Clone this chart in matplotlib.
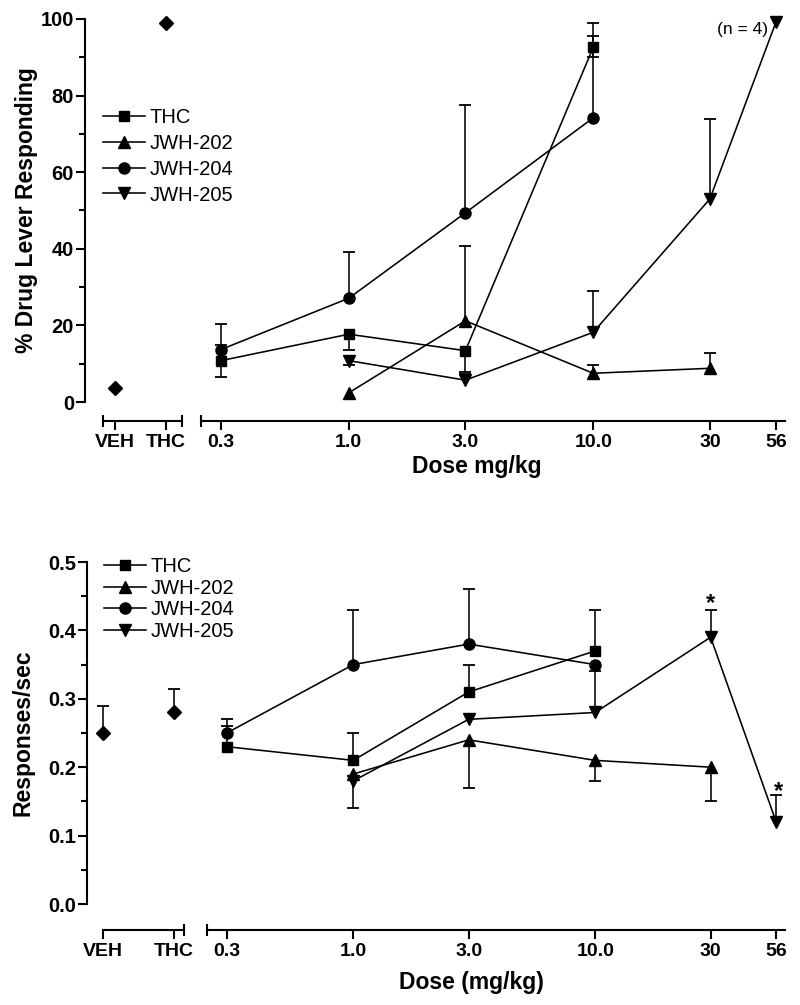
import matplotlib
matplotlib.use('Agg')
import matplotlib.pyplot as plt
from matplotlib.ticker import FixedLocator, NullFormatter

plt.rcParams['font.family'] = ['Liberation Sans', 'DejaVu Sans']

# ---------------- data ----------------
ctrl_labels = ['VEH', 'THC']
dose_ticks = [0.3, 1.0, 3.0, 10.0, 30, 56]
dose_tick_labels = ['0.3', '1.0', '3.0', '10.0', '30', '56']
series_names = ['THC', 'JWH-202', 'JWH-204', 'JWH-205']

thc_dose = [0.3, 1.0, 3.0, 10.0]
j202_dose = [1.0, 3.0, 10.0, 30]
j204_dose = [0.3, 1.0, 3.0, 10.0]
j205_dose = [1.0, 3.0, 10.0, 30, 56]

# top panel: % drug lever responding
top_ctrl = [3.6, 99.0]
top_ctrl_hi = [0, 0]
top_thc = [10.8, 17.7, 13.4, 92.6]
top_thc_lo = [4.2, 4.0, 5.5, 2.6]
top_thc_hi = [4.0, 0, 0, 3.0]
top_j202 = [2.4, 21.2, 7.5, 8.8]
top_j202_lo = [0, 0, 0, 0]
top_j202_hi = [0, 19.5, 2.2, 3.9]
top_j204 = [13.7, 27.1, 49.4, 74.2]
top_j204_lo = [0, 0, 0, 0]
top_j204_hi = [6.7, 12.0, 28.1, 24.8]
top_j205 = [10.8, 5.7, 18.2, 53.0, 99.3]
top_j205_lo = [1.2, 0, 0, 0, 0]
top_j205_hi = [0, 1.6, 10.9, 20.8, 0]

# bottom panel: responses/sec
bot_ctrl = [0.25, 0.28]
bot_ctrl_hi = [0.04, 0.035]
bot_thc = [0.23, 0.21, 0.31, 0.37]
bot_thc_lo = [0, 0, 0, 0]
bot_thc_hi = [0.03, 0.04, 0.04, 0.06]
bot_j202 = [0.19, 0.24, 0.21, 0.20]
bot_j202_lo = [0.05, 0.07, 0.03, 0.05]
bot_j202_hi = [0, 0, 0, 0]
bot_j204 = [0.25, 0.35, 0.38, 0.35]
bot_j204_lo = [0, 0, 0, 0]
bot_j204_hi = [0.02, 0.08, 0.08, 0]
bot_j205 = [0.18, 0.27, 0.28, 0.39, 0.12]
bot_j205_lo = [0, 0, 0, 0, 0]
bot_j205_hi = [0, 0, 0.06, 0.04, 0.04]

# ---------------- style ----------------
W, H, DPI = 800, 1005, 100
LW = 1.15
SPW = 1.5
XTICK_FS = 14
YTICK_FS = 14.5
LAB_FS = 16.5
LEG_FS = 14.5
markers = {'THC': ('s', 7.5), 'JWH-202': ('^', 8.5), 'JWH-204': ('o', 8), 'JWH-205': ('v', 8.5)}
XMIN, XMAX = 0.2485, 60.9

fig = plt.figure(figsize=(W / DPI, H / DPI), dpi=DPI)


def px_axes(x0, x1, ytop, ybot):
    return fig.add_axes([x0 / W, 1 - ybot / H, (x1 - x0) / W, (ybot - ytop) / H])


def draw_err(ax, xs, ys, lo, hi):
    for xi, yi, l, h in zip(xs, ys, lo, hi):
        for e in ([h] if h > 0 else []) + ([-l] if l > 0 else []):
            ax.vlines(xi, yi, yi + e, color='k', lw=LW, zorder=2, clip_on=False)
            ax.plot([xi], [yi + e], marker='_', ms=8.5, mew=1.3, color='k', zorder=2, clip_on=False)


def style_axes(axL, axR, ylim, yticks, yminor, ytl, offset_pt, lbounds, ylabel, ylab_x):
    for ax in (axL, axR):
        ax.set_ylim(*ylim)
        ax.spines['top'].set_visible(False)
        ax.spines['right'].set_visible(False)
        ax.spines['bottom'].set_position(('outward', offset_pt))
        ax.spines['bottom'].set_linewidth(SPW)
        ax.spines['left'].set_linewidth(SPW)
        ax.patch.set_alpha(0)
    axR.spines['left'].set_visible(False)
    axR.tick_params(axis='y', left=False, labelleft=False, which='both')
    # left (control) axis
    axL.set_xlim(*lbounds[0])
    axL.spines['bottom'].set_bounds(*lbounds[1])
    axL.set_xticks([0, 1])
    axL.set_xticklabels(ctrl_labels)
    axL.xaxis.set_minor_locator(FixedLocator(lbounds[2]))
    axL.set_yticks(yticks)
    axL.set_yticklabels(ytl)
    axL.yaxis.set_minor_locator(FixedLocator(yminor))
    axL.tick_params(axis='y', which='major', length=6.5, width=SPW, labelsize=YTICK_FS, pad=1.5)
    axL.tick_params(axis='y', which='minor', length=4.5, width=SPW)
    # right (dose) axis
    axR.set_xscale('log')
    axR.set_xlim(XMIN, XMAX)
    axR.xaxis.set_major_locator(FixedLocator(dose_ticks))
    axR.set_xticklabels(dose_tick_labels)
    axR.xaxis.set_minor_locator(FixedLocator([XMIN]))
    axR.xaxis.set_minor_formatter(NullFormatter())
    for ax in (axL, axR):
        ax.tick_params(axis='x', which='major', length=6.5, width=SPW, labelsize=XTICK_FS, pad=3)
        ax.tick_params(axis='x', which='minor', direction='inout', length=9, width=SPW)
        for t in ax.get_xticklabels() + ax.get_yticklabels():
            t.set_fontweight('bold')
    axL.set_ylabel(ylabel, fontsize=LAB_FS, fontweight='bold')
    axL.yaxis.set_label_coords(ylab_x, 0.5)


def plot_panel(axL, axR, ctrl, ctrl_hi, data):
    axL.plot([0, 1], ctrl, ls='none', marker='D', ms=7, color='k', zorder=3, clip_on=False)
    draw_err(axL, [0, 1], ctrl, [0, 0], ctrl_hi)
    handles = []
    for name, (xs, ys, lo, hi) in zip(series_names, data):
        m, ms = markers[name]
        draw_err(axR, xs, ys, lo, hi)
        h, = axR.plot(xs, ys, color='k', lw=LW, marker=m, ms=ms, zorder=3, clip_on=False, label=name)
        handles.append(h)
    return handles


# ---------------- top panel ----------------
tL = px_axes(85, 182, 19, 402)
tR = px_axes(201, 785, 19, 402)
style_axes(tL, tR, (0, 100), [0, 20, 40, 60, 80, 100], [10, 30, 50, 70, 90],
           ['0', '20', '40', '60', '80', '100'], 19 * 0.72,
           ((-0.588, 1.314), (-0.235, 1.314), [-0.235, 1.314]),
           '% Drug Lever Responding', -0.48)
hs = plot_panel(tL, tR, top_ctrl, top_ctrl_hi, [
    (thc_dose, top_thc, top_thc_lo, top_thc_hi),
    (j202_dose, top_j202, top_j202_lo, top_j202_hi),
    (j204_dose, top_j204, top_j204_lo, top_j204_hi),
    (j205_dose, top_j205, top_j205_lo, top_j205_hi)])
tR.annotate('(n = 4)', (j205_dose[-1], top_j205[-1]), xytext=(-5.8, -5.5), textcoords='offset points',
            ha='right', va='center', fontsize=12.5)
fig.legend(hs, series_names, loc='upper left', bbox_to_anchor=(103 / W, 1 - 108 / H),
           frameon=False, borderpad=0, borderaxespad=0, handlelength=2.08, handletextpad=0.25,
           labelspacing=0.34, fontsize=LEG_FS, numpoints=1)
fig.text(477 / W, 1 - 467 / H, 'Dose mg/kg', ha='center', va='center', fontsize=LAB_FS, fontweight='bold')

# ---------------- bottom panel ----------------
bL = px_axes(87, 184, 562, 904)
bR = px_axes(207, 785, 562, 904)
style_axes(bL, bR, (0, 0.5), [0, 0.1, 0.2, 0.3, 0.4, 0.5], [0.05, 0.15, 0.25, 0.35, 0.45],
           ['0.0', '0.1', '0.2', '0.3', '0.4', '0.5'], 26 * 0.72,
           ((-0.225, 1.141), (0, 1.141), [0, 1.141]),
           'Responses/sec', -0.54)
hs2 = plot_panel(bL, bR, bot_ctrl, bot_ctrl_hi, [
    (thc_dose, bot_thc, bot_thc_lo, bot_thc_hi),
    (j202_dose, bot_j202, bot_j202_lo, bot_j202_hi),
    (j204_dose, bot_j204, bot_j204_lo, bot_j204_hi),
    (j205_dose, bot_j205, bot_j205_lo, bot_j205_hi)])
for i, dx, dy in ((3, 0, 0), (4, 2, -2.2)):
    bR.annotate('*', (j205_dose[i], bot_j205[i] + bot_j205_hi[i]), xytext=(dx, dy),
                textcoords='offset points', ha='center', va='baseline', fontsize=17, fontweight='bold')
fig.legend(hs2, series_names, loc='upper left', bbox_to_anchor=(104 / W, 1 - 557 / H),
           frameon=False, borderpad=0, borderaxespad=0, handlelength=2.08, handletextpad=0.25,
           labelspacing=0.13, fontsize=LEG_FS, numpoints=1)
fig.text(471 / W, 1 - 982 / H, 'Dose (mg/kg)', ha='center', va='center', fontsize=LAB_FS, fontweight='bold')

fig.savefig('out.png', dpi=DPI)
